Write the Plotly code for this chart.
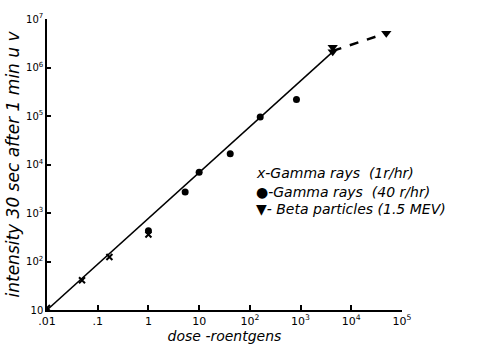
import plotly.graph_objects as go

# Data
gamma1_x = [0.01, 0.049, 0.17, 1.0]
gamma1_y = [11, 41, 124, 360]

gamma40_x = [1.0, 5.3, 10, 41, 160, 830]
gamma40_y = [430, 2700, 6900, 16600, 95000, 220000]

beta_x = [4300, 4300, 49000]
beta_y = [2.6e6, 2.1e6, 5.1e6]

fit_x = [0.01, 4300]
fit_y = [10, 2.1e6]
dash_x = [4300, 49000]
dash_y = [2.2e6, 5.1e6]

x_tickvals = [0.01, 0.1, 1, 10, 100, 1000, 1e4, 1e5]
x_ticktext = [".01", ".1", "1", "10", "10<sup>2</sup>", "10<sup>3</sup>", "10<sup>4</sup>", "10<sup>5</sup>"]
y_tickvals = [10, 100, 1000, 1e4, 1e5, 1e6, 1e7]
y_ticktext = ["10", "10<sup>2</sup>", "10<sup>3</sup>", "10<sup>4</sup>", "10<sup>5</sup>", "10<sup>6</sup>", "10<sup>7</sup>"]

legend_lines = [
    "x-Gamma rays  (1r/hr)",
    "●-Gamma rays  (40 r/hr)",
    "▼- Beta particles (1.5 MEV)",
]
legend_y = [0.47, 0.404, 0.348]

fig = go.Figure()
fig.add_trace(go.Scatter(x=fit_x, y=fit_y, mode="lines",
                         line=dict(color="black", width=1.5), showlegend=False))
fig.add_trace(go.Scatter(x=dash_x, y=dash_y, mode="lines",
                         line=dict(color="black", width=2.5, dash="dash"), showlegend=False))
fig.add_trace(go.Scatter(x=gamma1_x, y=gamma1_y, mode="markers",
                         marker=dict(symbol="x-thin", size=6, color="black",
                                     line=dict(width=2, color="black")), showlegend=False))
fig.add_trace(go.Scatter(x=gamma40_x, y=gamma40_y, mode="markers",
                         marker=dict(symbol="circle", size=7, color="black"), showlegend=False))
fig.add_trace(go.Scatter(x=beta_x, y=beta_y, mode="markers",
                         marker=dict(symbol="triangle-down", size=9, color="black"), showlegend=False))

font = dict(family="DejaVu Sans", color="black")

for t, yy in zip(legend_lines, legend_y):
    fig.add_annotation(x=0.583, y=yy, xref="paper", yref="paper",
                       text="<i>" + t + "</i>", showarrow=False, xanchor="left", yanchor="middle",
                       font=dict(size=14, **font))

fig.update_xaxes(type="log", range=[-2, 5], tickvals=x_tickvals, ticktext=x_ticktext,
                 showgrid=False, zeroline=False, showline=True, linecolor="black", linewidth=1.5,
                 ticks="inside", ticklen=5, tickcolor="black", tickwidth=1.5,
                 tickfont=dict(size=11, family="DejaVu Sans", color="black"),
                 title=dict(text="<i>dose -roentgens</i>", font=dict(size=14, **font), standoff=2))
fig.update_yaxes(type="log", range=[1, 7], tickvals=y_tickvals, ticktext=y_ticktext,
                 showgrid=False, zeroline=False, showline=True, linecolor="black", linewidth=1.5,
                 ticks="inside", ticklen=4, tickcolor="black", tickwidth=1.5,
                 tickfont=dict(size=10, family="DejaVu Sans", color="black"),
                 title=dict(text="<i>intensity 30 sec after 1 min u v</i>", font=dict(size=17, **font), standoff=2))

fig.update_layout(width=478, height=352, margin=dict(l=45, r=76, t=17, b=33),
                  plot_bgcolor="white", paper_bgcolor="white")

fig.write_html("out.html")
